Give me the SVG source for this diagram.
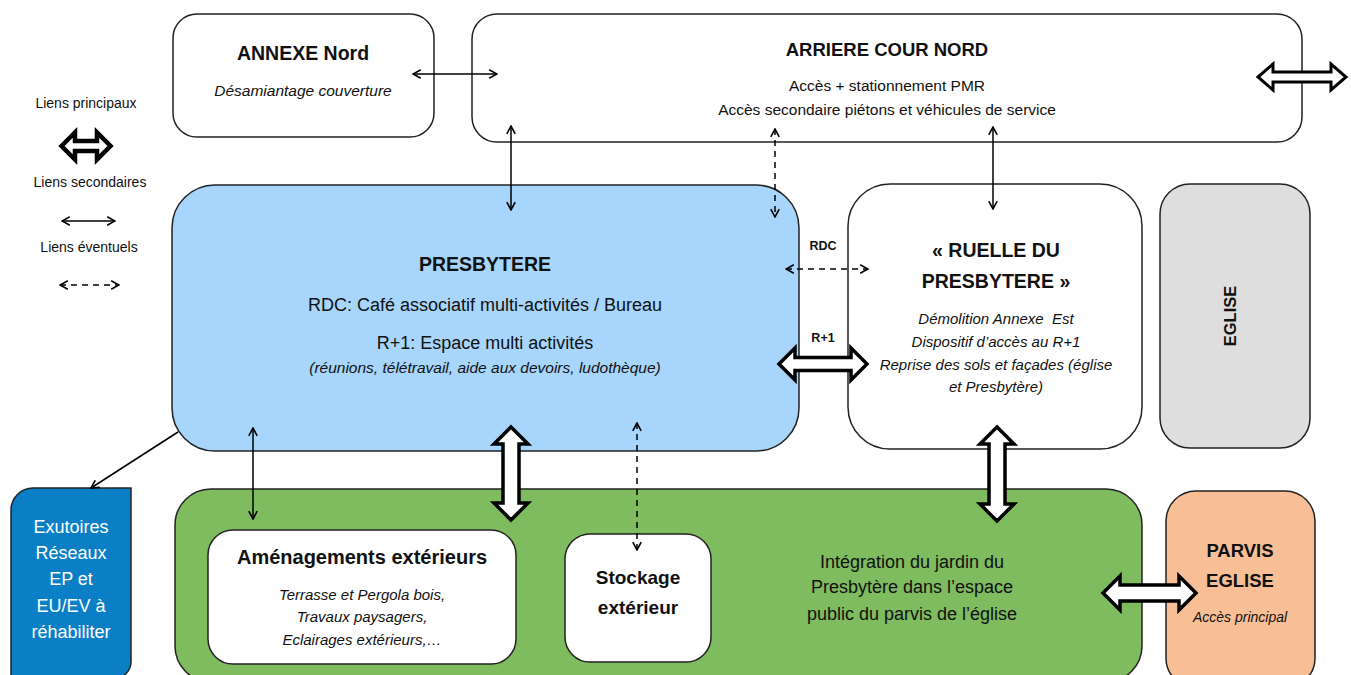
<svg xmlns="http://www.w3.org/2000/svg" width="1351" height="675" viewBox="0 0 1351 675">
<style>
text{font-family:"Liberation Sans",Arial,sans-serif;fill:#111;text-anchor:middle}
.b{font-weight:bold}
.i{font-style:italic}
.box{stroke:#222;stroke-width:1.5}
.thin{fill:none;stroke:#000;stroke-width:1.5;marker-start:url(#ah);marker-end:url(#ah)}
.dash{fill:none;stroke:#000;stroke-width:1.5;stroke-dasharray:6 5;marker-start:url(#ah);marker-end:url(#ah)}
.big{fill:#fff;stroke:#000;stroke-width:3.5;stroke-linejoin:miter;stroke-miterlimit:10}
</style>
<defs>
<marker id="ah" viewBox="0 0 10 10" markerWidth="10" markerHeight="10" refX="9.3" refY="5" orient="auto-start-reverse" markerUnits="userSpaceOnUse">
<path d="M1.5,0.8 L9.3,5 L1.5,9.2" fill="none" stroke="#000" stroke-width="1.6"/>
</marker>
<marker id="ahe" viewBox="0 0 10 10" markerWidth="10" markerHeight="10" refX="9.3" refY="5" orient="auto" markerUnits="userSpaceOnUse">
<path d="M1.5,0.8 L9.3,5 L1.5,9.2" fill="none" stroke="#000" stroke-width="1.6"/>
</marker>
</defs>
<rect width="1351" height="675" fill="#fff"/>

<g id="legend">
<text x="86" y="108" style="font-size:14px">Liens principaux</text>
<path class="big" style="stroke-width:4.5" d="M61.5,146 L75,132.5 L75,141 L97,141 L97,132.5 L110.5,146 L97,159.5 L97,151 L75,151 L75,159.5 Z"/>
<text x="90" y="187" style="font-size:14px">Liens secondaires</text>
<line class="thin" x1="62" y1="221" x2="115" y2="221"/>
<text x="89" y="252" style="font-size:14px">Liens éventuels</text>
<line class="dash" x1="60" y1="285" x2="119" y2="285"/>
</g>

<g id="annexe-nord">
<rect class="box" x="173" y="14" width="261" height="123" rx="24" fill="#fff"/>
<text class="b" x="303" y="60" style="font-size:19.5px">ANNEXE Nord</text>
<text class="i" x="303" y="96" style="font-size:15.5px">Désamiantage couverture</text>
</g>

<g id="arriere-cour-nord">
<rect class="box" x="472" y="14" width="830" height="128" rx="25" fill="#fff"/>
<text class="b" x="887" y="56" style="font-size:18.5px">ARRIERE COUR NORD</text>
<text x="887" y="91" style="font-size:15.5px">Accès + stationnement PMR</text>
<text x="887" y="115" style="font-size:15.5px">Accès secondaire piétons et véhicules de service</text>
</g>

<g id="presbytere">
<rect class="box" x="172" y="185" width="627" height="266" rx="43" fill="#a7d5fb"/>
<text class="b" x="485" y="271" style="font-size:19.5px">PRESBYTERE</text>
<text x="485" y="311" style="font-size:18px">RDC: Café associatif multi-activités / Bureau</text>
<text x="485" y="349" style="font-size:18px">R+1: Espace multi activités</text>
<text class="i" x="485" y="373" style="font-size:15.5px">(réunions, télétravail, aide aux devoirs, ludothèque)</text>
</g>

<g id="ruelle">
<rect class="box" x="848" y="184" width="294" height="265" rx="42" fill="#fff"/>
<text class="b" x="996" y="257" style="font-size:19.5px">« RUELLE DU</text>
<text class="b" x="996" y="288" style="font-size:19.5px">PRESBYTERE »</text>
<text class="i" x="996" y="324" style="font-size:15px">Démolition Annexe&#160; Est</text>
<text class="i" x="996" y="347" style="font-size:15px">Dispositif d’accès au R+1</text>
<text class="i" x="996" y="370" style="font-size:15px">Reprise des sols et façades (église</text>
<text class="i" x="996" y="392" style="font-size:15px">et Presbytère)</text>
</g>

<g id="eglise">
<rect class="box" x="1160" y="184" width="150" height="264" rx="30" fill="#dedede"/>
<text class="b" transform="translate(1230,316) rotate(-90)" x="0" y="6" style="font-size:16.5px">EGLISE</text>
</g>

<g id="exutoires">
<path class="box" d="M11,510 A22,22 0 0 1 33,488 L131,488 L131,662 A16,16 0 0 1 115,678 L11,678 Z" fill="#0a7fc6"/>
<text x="71" y="533" style="font-size:18px;fill:#fff">Exutoires</text>
<text x="71" y="559" style="font-size:18px;fill:#fff">Réseaux</text>
<text x="71" y="585" style="font-size:18px;fill:#fff">EP et</text>
<text x="71" y="612" style="font-size:18px;fill:#fff">EU/EV à</text>
<text x="71" y="638" style="font-size:18px;fill:#fff">réhabiliter</text>
</g>

<g id="jardin">
<rect class="box" x="175" y="489" width="967" height="193" rx="36" fill="#7fbb5f"/>
<text x="912" y="568" style="font-size:18px">Intégration du jardin du</text>
<text x="912" y="593" style="font-size:18px">Presbytère dans l’espace</text>
<text x="912" y="620" style="font-size:18px">public du parvis de l’église</text>
</g>

<g id="amenagements">
<rect class="box" x="208" y="530" width="308" height="134" rx="25" fill="#fff"/>
<text class="b" x="362" y="564" style="font-size:20px">Aménagements extérieurs</text>
<text class="i" x="362" y="600" style="font-size:15px">Terrasse et Pergola bois,</text>
<text class="i" x="362" y="622" style="font-size:15px">Travaux paysagers,</text>
<text class="i" x="362" y="645" style="font-size:15px">Eclairages extérieurs,…</text>
</g>

<g id="stockage">
<rect class="box" x="565" y="534" width="146" height="128" rx="25" fill="#fff"/>
<text class="b" x="638" y="584" style="font-size:19px">Stockage</text>
<text class="b" x="638" y="614" style="font-size:19px">extérieur</text>
</g>

<g id="parvis">
<rect class="box" x="1166" y="491" width="149" height="197" rx="30" fill="#f8bf96"/>
<text class="b" x="1240" y="557" style="font-size:18.5px">PARVIS</text>
<text class="b" x="1240" y="587" style="font-size:18.5px">EGLISE</text>
<text class="i" x="1240" y="622" style="font-size:14px">Accès principal</text>
</g>

<g id="connectors">
<line class="thin" x1="413" y1="74" x2="497" y2="74"/>
<line class="thin" x1="511" y1="126" x2="511" y2="210"/>
<line class="dash" x1="775" y1="129" x2="775" y2="217"/>
<line class="thin" x1="993" y1="127" x2="993" y2="209"/>
<line class="dash" x1="786" y1="269" x2="868" y2="269"/>
<text class="b" x="823" y="250" style="font-size:12.5px">RDC</text>
<text class="b" x="823" y="342" style="font-size:12.5px">R+1</text>
<path class="big" d="M779,364 L795,348 L795,357.5 L851,357.5 L851,348 L867,364 L851,380 L851,370.5 L795,370.5 L795,380 Z"/>
<path class="big" style="stroke-width:3" d="M1258,77 L1273,64 L1273,72 L1331,72 L1331,64 L1346,77 L1331,90 L1331,82 L1273,82 L1273,90 Z"/>
<line x1="178" y1="432" x2="91" y2="488" stroke="#000" stroke-width="1.5" marker-end="url(#ahe)"/>
<line class="thin" x1="253" y1="428" x2="253" y2="519"/>
<path class="big" d="M511,427 L528,444 L519,444 L519,503 L528,503 L511,520 L494,503 L503,503 L503,444 L494,444 Z"/>
<line class="dash" x1="637" y1="423" x2="637" y2="550"/>
<path class="big" d="M997,427 L1014,444 L1005,444 L1005,504 L1014,504 L997,521 L980,504 L989,504 L989,444 L980,444 Z"/>
<path class="big" d="M1103,593 L1120,576 L1120,585 L1179,585 L1179,576 L1196,593 L1179,610 L1179,601 L1120,601 L1120,610 Z"/>
</g>
</svg>
